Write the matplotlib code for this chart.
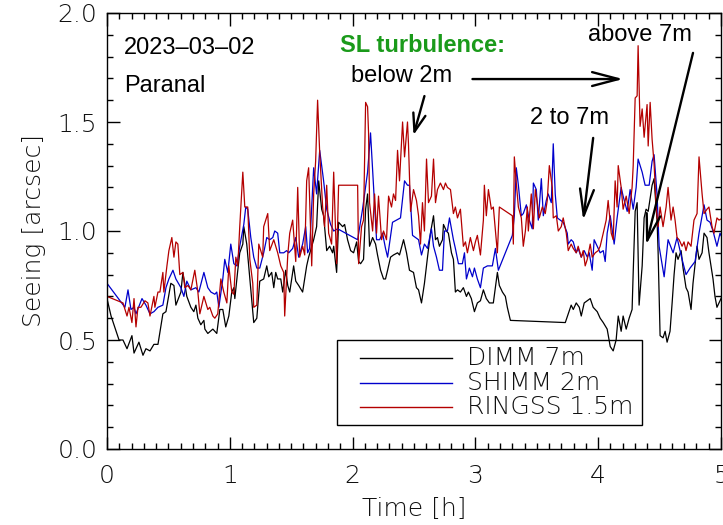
import numpy as np
import matplotlib
matplotlib.use('Agg')
import matplotlib.pyplot as plt
from matplotlib.lines import Line2D
from matplotlib.patches import Rectangle

# (time [h], seeing [arcsec])
dimm = [
    (0.000, 0.69), (0.033, 0.61), (0.098, 0.50), (0.130, 0.50), (0.163, 0.46), (0.203, 0.52),
    (0.220, 0.44), (0.260, 0.49), (0.293, 0.43), (0.317, 0.46), (0.350, 0.45), (0.382, 0.48),
    (0.415, 0.48), (0.455, 0.62), (0.480, 0.63), (0.520, 0.76), (0.545, 0.75), (0.561, 0.66),
    (0.602, 0.72), (0.618, 0.81), (0.650, 0.70), (0.683, 0.65), (0.707, 0.63), (0.724, 0.66),
    (0.740, 0.60), (0.764, 0.57), (0.789, 0.59), (0.797, 0.55), (0.821, 0.53), (0.862, 0.55),
    (0.894, 0.53), (0.919, 0.64), (0.943, 0.64), (0.967, 0.56), (0.992, 0.61), (1.016, 0.72),
    (1.033, 0.74), (1.041, 0.69), (1.065, 0.82), (1.081, 0.90), (1.106, 0.94), (1.114, 1.02),
    (1.138, 0.94), (1.154, 0.84), (1.171, 0.73), (1.195, 0.58), (1.220, 0.60), (1.244, 0.77),
    (1.276, 0.78), (1.301, 0.84), (1.317, 0.79), (1.341, 0.81), (1.358, 0.74), (1.374, 0.81),
    (1.390, 0.78), (1.415, 0.78), (1.431, 0.72), (1.455, 0.82), (1.472, 0.75), (1.488, 0.72),
    (1.520, 0.84), (1.537, 0.77), (1.561, 0.75), (1.593, 0.72), (1.626, 0.84), (1.642, 0.88),
    (1.683, 0.96), (1.707, 1.02), (1.724, 1.23), (1.748, 1.10), (1.764, 1.07), (1.789, 0.91),
    (1.813, 0.93), (1.837, 0.90), (1.846, 0.93), (1.870, 0.81), (1.886, 1.04), (1.919, 1.02),
    (1.935, 1.03), (1.959, 0.96), (1.984, 0.91), (2.008, 0.90), (2.033, 0.95), (2.049, 0.86),
    (2.065, 0.85), (2.089, 0.87), (2.106, 1.10), (2.122, 1.17), (2.138, 0.93), (2.163, 0.97),
    (2.187, 0.94), (2.203, 0.89), (2.228, 0.82), (2.252, 0.78), (2.268, 0.78), (2.285, 0.82),
    (2.309, 0.88), (2.333, 0.89), (2.366, 0.90), (2.382, 0.89), (2.415, 0.96), (2.439, 0.90),
    (2.463, 0.82), (2.496, 0.81), (2.520, 0.74), (2.537, 0.73), (2.561, 0.67), (2.585, 0.76),
    (2.610, 0.88), (2.634, 0.99), (2.659, 1.07), (2.675, 0.96), (2.691, 0.97), (2.707, 0.93),
    (2.732, 0.96), (2.740, 1.03), (2.764, 1.00), (2.780, 0.99), (2.805, 0.90), (2.821, 0.87),
    (2.837, 0.72), (2.854, 0.73), (2.878, 0.72), (2.902, 0.74), (2.927, 0.70), (2.943, 0.72),
    (2.967, 0.69), (2.992, 0.63), (3.016, 0.67), (3.041, 0.68), (3.065, 0.73), (3.089, 0.69),
    (3.114, 0.67), (3.146, 0.67), (3.179, 0.81), (3.195, 0.75), (3.220, 0.72), (3.244, 0.70),
    (3.260, 0.65), (3.285, 0.59), (3.732, 0.58), (3.756, 0.62), (3.780, 0.66), (3.797, 0.64),
    (3.821, 0.67), (3.846, 0.65), (3.862, 0.61), (3.886, 0.67), (3.911, 0.68), (3.935, 0.69),
    (3.959, 0.65), (3.992, 0.63), (4.016, 0.60), (4.041, 0.58), (4.073, 0.55), (4.098, 0.47),
    (4.122, 0.45), (4.146, 0.50), (4.163, 0.61), (4.187, 0.54), (4.203, 0.61), (4.228, 0.55),
    (4.252, 0.60), (4.276, 0.64), (4.285, 0.81), (4.301, 1.09), (4.317, 1.13), (4.333, 0.66),
    (4.358, 0.84), (4.374, 1.06), (4.390, 1.10), (4.407, 1.09), (4.439, 1.21), (4.455, 1.24),
    (4.480, 1.04), (4.488, 0.90), (4.504, 0.52), (4.528, 0.51), (4.545, 0.54), (4.561, 0.49),
    (4.585, 0.54), (4.602, 0.67), (4.618, 0.80), (4.634, 0.90), (4.650, 0.87), (4.675, 0.91),
    (4.691, 0.83), (4.715, 0.74), (4.732, 0.72), (4.756, 0.64), (4.772, 0.76), (4.805, 0.93),
    (4.821, 0.87), (4.846, 0.90), (4.862, 0.99), (4.886, 0.97), (4.902, 0.90), (4.935, 0.78),
    (4.951, 0.70), (4.967, 0.65), (4.992, 0.68), (5.016, 0.71),
]

shimm = [
    (0.000, 0.76), (0.146, 0.65), (0.171, 0.73), (0.195, 0.64), (0.220, 0.65), (0.236, 0.62),
    (0.285, 0.69), (0.317, 0.66), (0.350, 0.62), (0.382, 0.63), (0.415, 0.65), (0.455, 0.66),
    (0.480, 0.74), (0.504, 0.78), (0.537, 0.82), (0.561, 0.78), (0.602, 0.74), (0.626, 0.70),
    (0.650, 0.77), (0.683, 0.73), (0.724, 0.74), (0.748, 0.72), (0.789, 0.81), (0.821, 0.74),
    (0.846, 0.72), (0.878, 0.71), (0.894, 0.72), (0.911, 0.65), (0.943, 0.78), (0.959, 0.87),
    (0.984, 0.81), (1.008, 0.94), (1.033, 0.85), (1.057, 0.84), (1.081, 0.93), (1.114, 1.03),
    (1.130, 1.11), (1.146, 1.10), (1.171, 0.97), (1.195, 0.88), (1.220, 0.83), (1.244, 0.83),
    (1.276, 0.90), (1.301, 0.97), (1.325, 0.96), (1.350, 0.97), (1.366, 1.00), (1.390, 0.99),
    (1.407, 0.90), (1.439, 0.90), (1.463, 0.91), (1.480, 0.90), (1.512, 0.92), (1.537, 0.97),
    (1.561, 0.88), (1.593, 0.94), (1.618, 1.02), (1.634, 0.90), (1.650, 0.92), (1.683, 1.29),
    (1.707, 1.17), (1.732, 1.37), (1.764, 1.23), (1.789, 1.10), (1.821, 1.03), (1.846, 1.00),
    (1.878, 1.01), (2.041, 0.96), (2.081, 1.10), (2.122, 1.27), (2.146, 1.45), (2.171, 1.20),
    (2.195, 0.96), (2.220, 0.96), (2.244, 0.99), (2.268, 0.92), (2.285, 0.88), (2.325, 1.04),
    (2.390, 1.06), (2.423, 1.23), (2.447, 1.21), (2.463, 1.21), (2.488, 0.98), (2.512, 0.97),
    (2.537, 0.96), (2.561, 0.89), (2.585, 0.94), (2.610, 0.92), (2.642, 1.01), (2.659, 0.93),
    (2.683, 0.88), (2.707, 0.82), (2.732, 0.82), (2.748, 1.00), (2.772, 1.00), (2.789, 1.06),
    (2.821, 0.96), (2.837, 0.92), (2.862, 0.85), (2.894, 0.85), (2.911, 0.90), (2.927, 0.78),
    (2.951, 0.83), (2.976, 0.79), (2.992, 0.83), (3.016, 0.78), (3.041, 0.74), (3.065, 0.83),
    (3.098, 0.84), (3.138, 0.84), (3.163, 0.92), (3.187, 0.82), (3.301, 0.98), (3.317, 1.07),
    (3.333, 1.29), (3.350, 1.21), (3.374, 1.07), (3.390, 1.08), (3.415, 1.12), (3.439, 1.05),
    (3.463, 1.01), (3.472, 1.22), (3.496, 1.19), (3.512, 1.05), (3.537, 1.24), (3.553, 1.07),
    (3.577, 1.14), (3.593, 1.17), (3.618, 1.13), (3.634, 1.40), (3.650, 1.17), (3.667, 1.06),
    (3.691, 1.05), (3.715, 1.04), (3.748, 0.99), (3.756, 0.94), (3.780, 0.96), (3.797, 0.95),
    (3.821, 0.90), (3.837, 0.92), (3.862, 0.88), (3.886, 0.91), (3.911, 0.88), (3.927, 0.90),
    (3.951, 0.82), (3.967, 0.96), (3.992, 0.93), (4.016, 0.90), (4.041, 0.91), (4.057, 0.86),
    (4.073, 0.99), (4.098, 1.07), (4.130, 0.94), (4.154, 1.06), (4.187, 1.20), (4.203, 1.16),
    (4.236, 1.09), (4.260, 1.19), (4.285, 1.10), (4.309, 1.20), (4.325, 1.33), (4.358, 1.27),
    (4.382, 1.21), (4.415, 1.21), (4.439, 1.32), (4.455, 1.35), (4.480, 1.16), (4.496, 0.93),
    (4.537, 0.79), (4.569, 0.96), (4.610, 0.90), (4.642, 0.97), (4.683, 0.87), (4.715, 0.80),
    (4.748, 0.83), (4.789, 0.86), (4.821, 0.99), (4.862, 1.12), (4.886, 1.05), (4.911, 1.04),
    (4.935, 1.00), (4.967, 0.93), (4.992, 0.99), (5.016, 0.96),
]

ringss = [
    (0.000, 0.70), (0.130, 0.67), (0.163, 0.61), (0.179, 0.65), (0.203, 0.58), (0.220, 0.69),
    (0.236, 0.56), (0.252, 0.65), (0.276, 0.65), (0.309, 0.68), (0.333, 0.67), (0.350, 0.61),
    (0.382, 0.70), (0.390, 0.65), (0.415, 0.72), (0.431, 0.72), (0.455, 0.81), (0.463, 0.72),
    (0.488, 0.84), (0.504, 0.91), (0.528, 0.97), (0.545, 0.88), (0.561, 0.95), (0.577, 0.94),
    (0.593, 0.80), (0.618, 0.81), (0.634, 0.74), (0.659, 0.75), (0.683, 0.73), (0.715, 0.82),
    (0.740, 0.72), (0.756, 0.62), (0.789, 0.70), (0.821, 0.64), (0.837, 0.65), (0.862, 0.61),
    (0.878, 0.60), (0.902, 0.62), (0.927, 0.78), (0.951, 0.72), (0.976, 0.67), (0.992, 0.84),
    (1.016, 0.72), (1.033, 0.71), (1.049, 0.88), (1.065, 0.84), (1.081, 1.02), (1.106, 1.27),
    (1.122, 1.11), (1.146, 1.11), (1.163, 0.87), (1.187, 0.76), (1.195, 0.65), (1.220, 0.66),
    (1.236, 0.94), (1.268, 0.88), (1.276, 1.02), (1.309, 1.08), (1.325, 0.91), (1.358, 0.96),
    (1.390, 0.90), (1.415, 0.84), (1.439, 0.81), (1.447, 0.61), (1.472, 0.89), (1.488, 0.99),
    (1.512, 1.05), (1.537, 0.86), (1.553, 1.20), (1.569, 0.88), (1.593, 0.93), (1.610, 0.89),
    (1.626, 1.23), (1.642, 1.29), (1.667, 0.84), (1.683, 1.17), (1.699, 1.32), (1.715, 1.60),
    (1.732, 1.36), (1.756, 1.11), (1.772, 1.02), (1.789, 1.21), (1.805, 0.99), (1.829, 0.94),
    (1.846, 1.27), (1.870, 0.85), (1.886, 1.21), (2.041, 1.21), (2.049, 0.85), (2.073, 1.02),
    (2.089, 1.05), (2.106, 1.59), (2.122, 1.57), (2.130, 1.45), (2.138, 1.13), (2.163, 1.00),
    (2.179, 1.17), (2.195, 0.99), (2.211, 1.16), (2.236, 0.96), (2.252, 1.00), (2.276, 0.96),
    (2.293, 1.16), (2.317, 1.11), (2.333, 1.17), (2.350, 1.14), (2.366, 1.37), (2.382, 1.23),
    (2.407, 1.50), (2.423, 1.34), (2.447, 1.50), (2.455, 1.40), (2.463, 1.26), (2.472, 1.09),
    (2.496, 1.19), (2.520, 1.14), (2.537, 1.07), (2.553, 0.94), (2.569, 1.13), (2.585, 1.00),
    (2.602, 1.33), (2.618, 1.13), (2.642, 1.16), (2.659, 1.33), (2.675, 1.13), (2.691, 1.19),
    (2.715, 1.22), (2.740, 1.19), (2.756, 1.22), (2.772, 1.20), (2.797, 1.19), (2.821, 1.08),
    (2.837, 1.11), (2.854, 1.06), (2.878, 1.10), (2.902, 0.93), (2.919, 0.95), (2.935, 0.90),
    (2.959, 0.97), (2.984, 0.91), (3.000, 0.95), (3.016, 0.98), (3.041, 0.89), (3.065, 1.05),
    (3.073, 1.21), (3.089, 1.07), (3.106, 1.19), (3.130, 1.10), (3.146, 1.11), (3.179, 0.90),
    (3.195, 1.11), (3.301, 1.07), (3.309, 0.94), (3.317, 1.34), (3.333, 1.22), (3.350, 1.11),
    (3.374, 1.06), (3.390, 0.93), (3.407, 1.00), (3.423, 1.11), (3.431, 1.00), (3.455, 1.17),
    (3.472, 1.01), (3.488, 1.19), (3.504, 1.13), (3.520, 1.06), (3.545, 1.11), (3.569, 1.08),
    (3.585, 1.14), (3.602, 1.30), (3.626, 1.20), (3.634, 1.06), (3.659, 1.07), (3.675, 1.00),
    (3.699, 1.02), (3.715, 1.06), (3.740, 0.99), (3.756, 0.91), (3.780, 0.94), (3.797, 0.92),
    (3.821, 0.90), (3.837, 0.93), (3.862, 0.88), (3.878, 0.91), (3.894, 0.84), (3.911, 0.87),
    (3.935, 0.94), (3.951, 0.88), (3.976, 0.90), (4.000, 0.91), (4.016, 0.93), (4.041, 0.99),
    (4.065, 1.05), (4.081, 1.14), (4.106, 0.99), (4.122, 0.96), (4.138, 1.23), (4.154, 1.11),
    (4.163, 1.30), (4.187, 1.20), (4.203, 1.10), (4.228, 1.16), (4.252, 1.08), (4.276, 1.20),
    (4.285, 1.30), (4.301, 1.61), (4.317, 1.62), (4.325, 1.85), (4.341, 1.48), (4.358, 1.56),
    (4.374, 1.43), (4.398, 1.58), (4.407, 1.39), (4.423, 1.59), (4.439, 1.42), (4.455, 1.31),
    (4.472, 1.11), (4.488, 1.02), (4.504, 1.11), (4.528, 1.02), (4.553, 1.11), (4.569, 1.20),
    (4.593, 1.05), (4.610, 1.11), (4.626, 1.05), (4.642, 0.97), (4.659, 0.96), (4.683, 0.93),
    (4.699, 0.95), (4.715, 0.91), (4.732, 0.95), (4.756, 0.93), (4.780, 1.05), (4.805, 1.08),
    (4.821, 1.34), (4.846, 1.17), (4.862, 1.08), (4.886, 1.10), (4.902, 1.11), (4.927, 1.02),
    (4.943, 0.99), (4.967, 1.06), (4.984, 1.05), (5.016, 1.06),
]

labels = ['DIMM 7m', 'SHIMM 2m', 'RINGSS 1.5m']
colors = ['black', '#0000cc', '#b40000']

AXFONT = dict(family='DejaVu Sans', weight='light', color='#111111')
TXFONT = dict(family='Liberation Sans')

fig = plt.figure(figsize=(7.23, 5.25), dpi=100)
W, H = 723, 525
ax = fig.add_axes([107 / W, 76 / H, 614 / W, 436 / H])

for series, c in zip([dimm, shimm, ringss], colors):
    t, s = np.array(series).T
    ax.plot(t, s, color=c, lw=0.9)

ax.set_xlim(0, 5)
ax.set_ylim(0, 2)
ax.set_xticks(np.arange(0, 6, 1))
ax.set_xticks(np.arange(0, 5.01, 0.1), minor=True)
ax.set_yticks(np.arange(0, 2.01, 0.5))
ax.set_yticks(np.arange(0, 2.01, 0.1), minor=True)
ax.set_yticklabels(['%.1f' % v for v in np.arange(0, 2.01, 0.5)])
ax.tick_params(which='both', direction='in', top=True, right=True, width=1)
ax.tick_params(which='major', length=9)
ax.tick_params(which='minor', length=4.5)
ax.tick_params(axis='x', pad=11)
ax.tick_params(axis='y', pad=7)
for lab in ax.get_xticklabels() + ax.get_yticklabels():
    lab.set_fontsize(18)
    lab.set_fontfamily(AXFONT['family'])
    lab.set_fontweight(AXFONT['weight'])
    lab.set_color(AXFONT['color'])
for sp in ax.spines.values():
    sp.set_linewidth(1)

ax.set_xlabel('Time [h]', fontsize=18, labelpad=6, **AXFONT)
ax.set_ylabel('Seeing [arcsec]', fontsize=18, labelpad=8, **AXFONT)

# legend box drawn by hand to match the IDL layout
fig.add_artist(Rectangle((337 / W, 1 - 425 / H), 305 / W, 85 / H,
                         transform=fig.transFigure, fill=False, lw=1, ec='black'))
for i, (lab, c) in enumerate(zip(labels, colors)):
    yy = 1 - (358 + 24.5 * i) / H
    fig.add_artist(Line2D([360 / W, 452 / W], [yy, yy], transform=fig.transFigure, color=c, lw=1))
    fig.text(467 / W, yy, lab, va='center', ha='left', fontsize=18, **AXFONT)

# annotations
ax.text(0.138, 1.84, '2023\u201303\u201302', fontsize=17, va='center', **TXFONT)
ax.text(0.138, 1.665, 'Paranal', fontsize=17, va='center', **TXFONT)
ax.text(1.90, 1.853, 'SL turbulence:', fontsize=17, va='center', color='#1a9a1a',
        fontweight='bold', **TXFONT)
ax.text(1.984, 1.71, 'below 2m', fontsize=17, va='center', **TXFONT)
ax.text(3.447, 1.518, '2 to 7m', fontsize=17, va='center', **TXFONT)
ax.text(3.919, 1.899, 'above 7m', fontsize=17, va='center', **TXFONT)

long_head = dict(arrowstyle='->,head_length=1.9,head_width=0.5', lw=1.7, color='black',
                 shrinkA=0, shrinkB=0, mutation_scale=10)
short_head = dict(arrowstyle='->,head_length=1.3,head_width=0.45', lw=1.7, color='black',
                  shrinkA=0, shrinkB=0, mutation_scale=10)
ax.annotate('', xy=(4.203, 1.697), xytext=(2.976, 1.697), arrowprops=long_head)
ax.annotate('', xy=(2.496, 1.440), xytext=(2.585, 1.619), arrowprops=short_head)
ax.annotate('', xy=(3.878, 1.050), xytext=(3.959, 1.427), arrowprops=long_head)
ax.annotate('', xy=(4.390, 0.936), xytext=(4.772, 1.817), arrowprops=long_head)

fig.savefig('out.png', dpi=100)
